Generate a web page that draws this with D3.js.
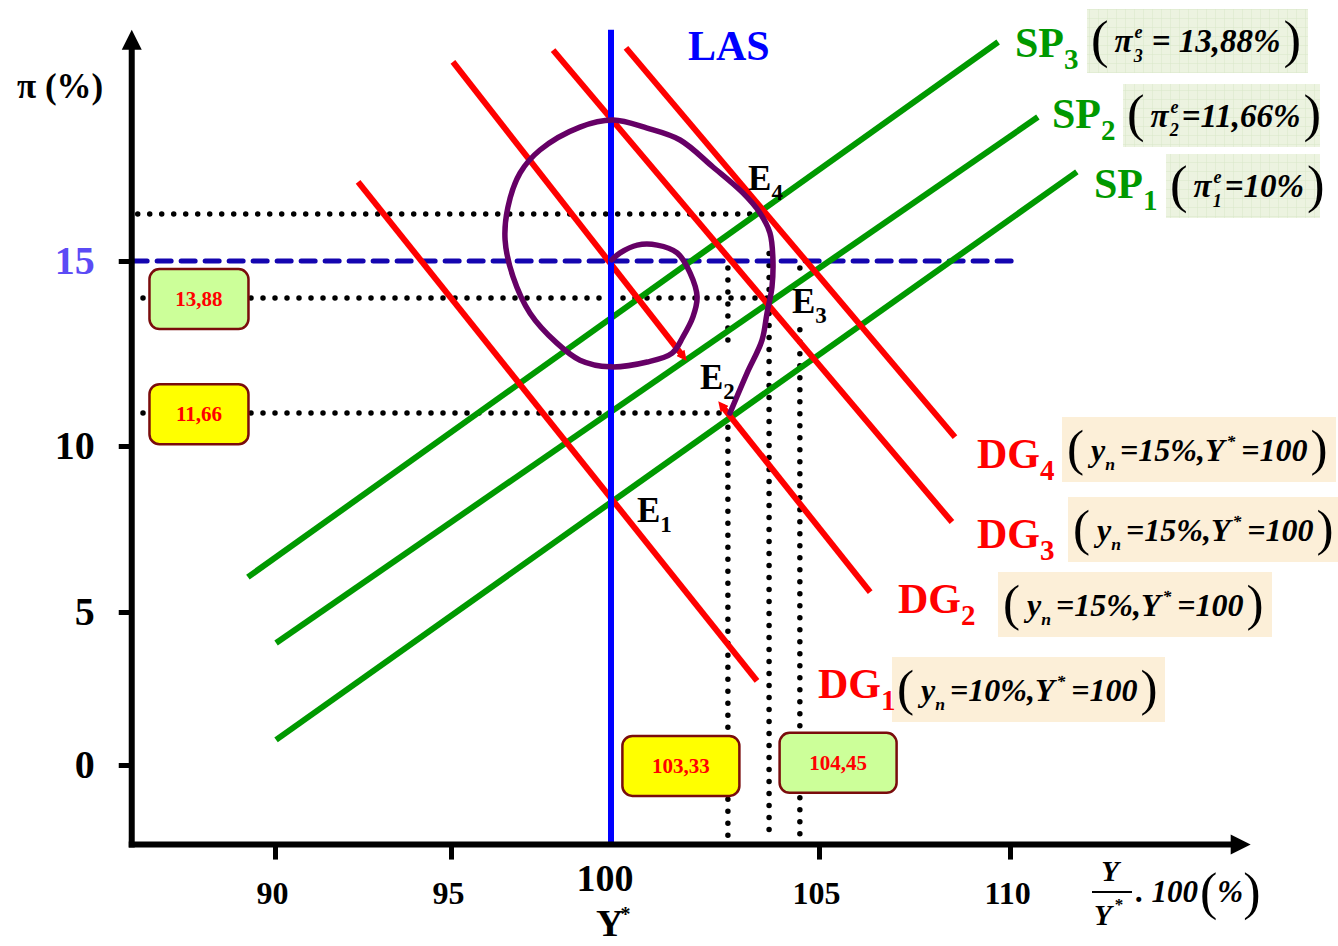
<!DOCTYPE html>
<html>
<head>
<meta charset="utf-8">
<script src="https://cdn.jsdelivr.net/npm/d3@7"></script>
<style>
  html, body { margin: 0; padding: 0; background: #ffffff; }
  svg { display: block; }
</style>
</head>
<body>
<script>
// ---------------- DATA ----------------
const xKnots = [90, 95, 100, 105, 110];          // tick values on the output axis
const yKnots = [0, 5, 10, 15];                    // tick values on the inflation axis
const xTickValues = [90, 95, 105, 110];
const yTickValues = [0, 5, 10, 15];
const xExtent = [85.93, 116.3];
const yExtent = [-2.6, 21.25];

const lasX = 100;
const targetInflation = 15;

const spNames = ["SP1", "SP2", "SP3"];
const spSubs = ["1", "2", "3"];
const spExpected = ["=10%", "=11,66%", "= 13,88%"];
const spStart = [[90.03, 0.82], [90.03, 3.99], [89.23, 6.05]];
const spEnd = [[111.75, 17.41], [110.73, 18.89], [109.69, 20.92]];

const dgNames = ["DG1", "DG2", "DG3", "DG4"];
const dgSubs = ["1", "2", "3", "4"];
const dgYn = ["=10%,Y", "=15%,Y", "=15%,Y", "=15%,Y"];
const dgSegments = [
  [[[92.36, 17.14], [103.51, 2.75]]],
  [[[95.06, 20.38], [101.73, 12.43]], [[102.67, 11.08], [106.34, 5.60]]],
  [[[98.19, 20.70], [108.48, 7.71]]],
  [[[100.36, 20.76], [108.56, 10.24]]]
];

// adjustment path (spiral)
const pathX = [102.86, 103.27, 103.63, 103.75, 103.87, 103.89, 103.82, 103.58, 103.17, 102.45, 101.66, 100.87, 100.05,
  99.03, 97.78, 97.16, 96.78, 96.69, 96.94, 97.47, 98.31, 99.03, 99.97, 100.87, 101.47, 101.73, 101.97, 102.07,
  101.90, 101.59, 101.11, 100.63, 100.22, 100.02];
const pathY = [10.89, 11.97, 12.86, 13.59, 14.30, 15.11, 15.76, 16.30, 16.84, 17.54, 18.27, 18.59, 18.81,
  18.62, 18.00, 17.38, 16.46, 15.57, 14.57, 13.59, 12.78, 12.32, 12.14, 12.27, 12.51, 12.95, 13.49, 14.03,
  14.68, 15.22, 15.43, 15.43, 15.22, 15.03];

const eqNames = ["E", "E", "E", "E"];
const eqSubs = ["1", "2", "3", "4"];
const eqX = [100, 102.81, 103.82, 103.51];
const eqY = [8.46, 10.89, 14.0, 16.27];

// dotted guides
const hGuideY = [16.27, 14.0, 10.89];
const hGuideX0 = [86.1, 86.25, 86.25];
const hGuideX1 = [103.51, 103.82, 102.81];
const vGuideX = [102.81, 102.81, 103.80, 104.54, 104.54];
const vGuideY0 = [14.81, 10.51, 15.2, 14.81, 13.14];
const vGuideY1 = [12.73, -2.45, -2.45, 14.49, -2.45];

// value boxes
const boxLabels = ["13,88", "11,66", "103,33", "104,45"];
const boxX = [87.84, 87.84, 101.68, 105.5];
const boxY = [13.97, 10.86, -0.03, 0.07];
const boxFill = ["#ccff99", "#ffff00", "#ffff00", "#ccff99"];

// ---------------- DRAWING ----------------
const W = 1338, H = 946;
const serif = '"Liberation Serif", "Times New Roman", Times, serif';

const x = d3.scaleLinear().domain(xKnots).range([275, 451, 611, 819, 1010]);
const y = d3.scaleLinear().domain(yKnots).range([765, 612, 446, 261]);

const svg = d3.select("body").append("svg").attr("width", W).attr("height", H);
const defs = svg.append("defs");

// grid pattern for SP boxes
const pat = defs.append("pattern").attr("id", "grid").attr("width", 9).attr("height", 9)
  .attr("patternUnits", "userSpaceOnUse");
pat.append("rect").attr("width", 9).attr("height", 9).attr("fill", "#ecf3e0");
pat.append("path").attr("d", "M9 0 L0 0 0 9").attr("fill", "none").attr("stroke", "#d9e8c8").attr("stroke-width", 1);

defs.append("marker").attr("id", "tip").attr("viewBox", "0 0 10 10").attr("refX", 4).attr("refY", 5)
  .attr("markerWidth", 1.7).attr("markerHeight", 1.7).attr("orient", "auto-start-reverse")
  .append("path").attr("d", "M0 0 L10 5 L0 10 z").attr("fill", "#ff0000");

const line = d3.line().x(d => x(d[0])).y(d => y(d[1]));

// dotted guides
const dotStyle = s => s.attr("stroke", "#000").attr("stroke-width", 5.5).attr("stroke-linecap", "round")
  .attr("stroke-dasharray", "0 12").attr("fill", "none");
hGuideY.forEach((v, i) => {
  svg.append("path").attr("d", line([[hGuideX0[i], v], [hGuideX1[i], v]])).call(dotStyle);
});
vGuideX.forEach((v, i) => {
  svg.append("path").attr("d", line([[v, vGuideY0[i]], [v, vGuideY1[i]]])).call(dotStyle);
});

// target inflation dashed line
svg.append("path").attr("d", line([[85.97, targetInflation], [110.13, targetInflation]]))
  .attr("stroke", "#1405b0").attr("stroke-width", 5).attr("stroke-linecap", "round")
  .attr("stroke-dasharray", "14 10").attr("fill", "none");

// SP lines
spNames.forEach((n, i) => {
  svg.append("path").attr("d", line([spStart[i], spEnd[i]]))
    .attr("stroke", "#009900").attr("stroke-width", 6).attr("fill", "none");
});

// DG lines
dgSegments.forEach((segs, i) => {
  segs.forEach((seg, j) => {
    const p = svg.append("path").attr("d", line(seg))
      .attr("stroke", "#ff0000").attr("stroke-width", 6).attr("fill", "none");
    if (segs.length > 1) {
      if (j === 0) p.attr("marker-end", "url(#tip)");
      else p.attr("marker-start", "url(#tip)");
    }
  });
});

// LAS
svg.append("path").attr("d", line([[lasX, yExtent[0]], [lasX, yExtent[1]]]))
  .attr("stroke", "#0000ff").attr("stroke-width", 6).attr("fill", "none");

// spiral path
const spiral = pathX.map((v, i) => [v, pathY[i]]);
svg.append("path").attr("d", d3.line().x(d => x(d[0])).y(d => y(d[1])).curve(d3.curveCatmullRom.alpha(0.5))(spiral))
  .attr("stroke", "#660066").attr("stroke-width", 5.5).attr("fill", "none")
  .attr("stroke-linecap", "round").attr("stroke-linejoin", "round");

// ---------------- AXES ----------------
const x0 = x(xExtent[0]), y0 = y(yExtent[0]);
const xTop = y(yExtent[1]), xRight = x(xExtent[1]);

const gx = svg.append("g").attr("transform", `translate(0,${y0})`)
  .call(d3.axisBottom(x).tickValues(xTickValues).tickSize(15).tickPadding(22).tickFormat(d3.format("d")));
gx.select(".domain").remove();
gx.selectAll(".tick line").attr("stroke", "#000").attr("stroke-width", 5);
gx.selectAll(".tick text").attr("font-family", serif).attr("font-size", 32).attr("font-weight", "bold")
  .attr("fill", "#000").attr("dx", -3);

const gy = svg.append("g").attr("transform", `translate(${x0},0)`)
  .call(d3.axisLeft(y).tickValues(yTickValues).tickSize(13).tickPadding(24).tickFormat(d3.format("d")));
gy.select(".domain").remove();
gy.selectAll(".tick line").attr("stroke", "#000").attr("stroke-width", 5);
gy.selectAll(".tick text").attr("font-family", serif).attr("font-size", 40).attr("font-weight", "bold")
  .attr("fill", d => d === 15 ? "#5b4bf5" : "#000");

// axis lines with arrows
svg.append("path").attr("d", `M${x0},${y0 + 3} L${x0},${xTop + 18}`).attr("stroke", "#000").attr("stroke-width", 6);
svg.append("path").attr("d", `M${x0 - 3},${y0} L${xRight - 18},${y0}`).attr("stroke", "#000").attr("stroke-width", 6);
svg.append("path").attr("d", `M${x0},${xTop} L${x0 - 10},${xTop + 20} L${x0 + 10},${xTop + 20} Z`).attr("fill", "#000");
svg.append("path").attr("d", `M${xRight},${y0} L${xRight - 20},${y0 - 10} L${xRight - 20},${y0 + 10} Z`).attr("fill", "#000");

// special 100 / Y* label
svg.append("text").attr("x", x(100) - 6).attr("y", 891).attr("text-anchor", "middle")
  .attr("font-family", serif).attr("font-size", 38).attr("font-weight", "bold").text("100");
const ys = svg.append("text").attr("x", x(100) - 15).attr("y", 936).attr("text-anchor", "start")
  .attr("font-family", serif).attr("font-size", 38).attr("font-weight", "bold");
ys.append("tspan").attr("y", 936).text("Y");
ys.append("tspan").attr("y", 921).attr("dx", -3).attr("font-size", 20).text("*");

// π (%) title
svg.append("text").attr("x", 17).attr("y", 98).attr("font-family", serif).attr("font-size", 35)
  .attr("font-weight", "bold").text("π (%)");

// x axis title  Y/Y* . 100 (%)
svg.append("text").attr("x", 1110).attr("y", 881).attr("text-anchor", "middle").attr("font-family", serif)
  .attr("font-size", 29).attr("font-weight", "bold").attr("font-style", "italic").text("Y");
svg.append("line").attr("x1", 1092).attr("x2", 1132).attr("y1", 892).attr("y2", 892).attr("stroke", "#000").attr("stroke-width", 2);
const den = svg.append("text").attr("x", 1094).attr("y", 925).attr("font-family", serif)
  .attr("font-size", 29).attr("font-weight", "bold").attr("font-style", "italic");
den.append("tspan").text("Y");
den.append("tspan").attr("y", 910).attr("dx", 3).attr("font-size", 17).attr("font-style", "normal").text("*");
const ax = svg.append("text").attr("x", 1136).attr("y", 902).attr("font-family", serif)
  .attr("font-size", 31).attr("font-weight", "bold").attr("font-style", "italic");
ax.append("tspan").attr("y", 902).text(". 100");
ax.append("tspan").attr("y", 909).attr("font-size", 52).attr("font-weight", "normal").attr("font-style", "normal").attr("dx", 2).text("(");
ax.append("tspan").attr("y", 902).text("%");
ax.append("tspan").attr("y", 909).attr("font-size", 52).attr("font-weight", "normal").attr("font-style", "normal").text(")");

// LAS label
svg.append("text").attr("x", 688).attr("y", 60).attr("font-family", serif).attr("font-size", 42)
  .attr("font-weight", "bold").attr("fill", "#0000ff").text("LAS");

// E labels
const eqOffsets = [[26, 25], [-28, -24], [22, 15], [-9, -24]];
eqNames.forEach((n, i) => {
  const t = svg.append("text").attr("x", x(eqX[i]) + eqOffsets[i][0]).attr("y", y(eqY[i]) + eqOffsets[i][1])
    .attr("font-family", serif).attr("font-size", 35).attr("font-weight", "bold").attr("fill", "#000");
  t.append("tspan").text(n);
  t.append("tspan").attr("y", y(eqY[i]) + eqOffsets[i][1] + 10).attr("font-size", 23).text(eqSubs[i]);
});

// formula helper
function formula(xp, base, size, parts) {
  const t = svg.append("text").attr("x", xp).attr("y", base).attr("font-family", serif)
    .attr("font-weight", "bold").attr("font-style", "italic").attr("font-size", size).attr("fill", "#000");
  parts.forEach(p => {
    const s = t.append("tspan").text(p.t);
    if (p.k === "sub") s.attr("y", base + size * 0.3).attr("font-size", size * 0.55);
    else if (p.k === "sup") s.attr("y", base - size * 0.42).attr("font-size", size * 0.55);
    else if (p.k === "paren") s.attr("y", base + size * 0.14).attr("font-size", size * 1.6)
      .attr("font-weight", "normal").attr("font-style", "normal");
    else s.attr("y", base);
    if (p.dx !== undefined) s.attr("dx", p.dx);
  });
  return t;
}

// SP labels and boxes
const spLabelX = [1094, 1052, 1015];
const spLabelY = [198, 128, 57];
const spBox = [[1166, 154, 154, 64], [1123, 84, 197, 63], [1087, 9, 221, 64]];
const spGap = [3, 3, 9];
spNames.forEach((n, i) => {
  const b = spBox[i];
  svg.append("rect").attr("x", b[0]).attr("y", b[1]).attr("width", b[2]).attr("height", b[3]).attr("fill", "url(#grid)");
  formula(b[0] + 4, b[1] + b[3] / 2 + 11, 33, [
    { t: "(", k: "paren" },
    { t: "π", dx: 6 },
    { t: "e", k: "sup", dx: 2 },
    { t: spSubs[i], k: "sub", dx: -9 },
    { t: spExpected[i], dx: spGap[i] },
    { t: ")", k: "paren", dx: 3 }
  ]);
  const t = svg.append("text").attr("x", spLabelX[i]).attr("y", spLabelY[i]).attr("font-family", serif)
    .attr("font-size", 42).attr("font-weight", "bold").attr("fill", "#009900");
  t.append("tspan").text(n.slice(0, 2));
  t.append("tspan").attr("y", spLabelY[i] + 12).attr("font-size", 29).text(spSubs[i]);
});

// DG labels and boxes
const dgLabelX = [818, 898, 977, 977];
const dgLabelY = [698, 613, 548, 468];
const dgBox = [[892, 657, 273, 65], [998, 572, 274, 65], [1068, 497, 270, 65], [1062, 417, 274, 65]];
dgNames.forEach((n, i) => {
  const b = dgBox[i];
  svg.append("rect").attr("x", b[0]).attr("y", b[1]).attr("width", b[2]).attr("height", b[3]).attr("fill", "#fcefd8");
  formula(b[0] + 5, b[1] + b[3] / 2 + 11, 32, [
    { t: "(", k: "paren" },
    { t: "y", dx: 7 },
    { t: "n", k: "sub" },
    { t: dgYn[i], dx: 5 },
    { t: "*", k: "sup", dx: 2 },
    { t: "=100", dx: 6 },
    { t: ")", k: "paren", dx: 3 }
  ]);
  const t = svg.append("text").attr("x", dgLabelX[i]).attr("y", dgLabelY[i]).attr("font-family", serif)
    .attr("font-size", 42).attr("font-weight", "bold").attr("fill", "#ff0000");
  t.append("tspan").text(n.slice(0, 2));
  t.append("tspan").attr("y", dgLabelY[i] + 12).attr("font-size", 29).text(dgSubs[i]);
});

// value boxes
const boxW = [99, 99, 117, 117];
boxLabels.forEach((lab, i) => {
  const cx = x(boxX[i]), cy = y(boxY[i]);
  svg.append("rect").attr("x", cx - boxW[i] / 2).attr("y", cy - 30).attr("width", boxW[i]).attr("height", 60)
    .attr("rx", 10).attr("fill", boxFill[i]).attr("stroke", "#7a0c0c").attr("stroke-width", 2.5);
  svg.append("text").attr("x", cx).attr("y", cy + 7).attr("text-anchor", "middle").attr("font-family", serif)
    .attr("font-size", 21).attr("font-weight", "bold").attr("fill", "#ff0000").text(lab);
});
</script>
</body>
</html>
